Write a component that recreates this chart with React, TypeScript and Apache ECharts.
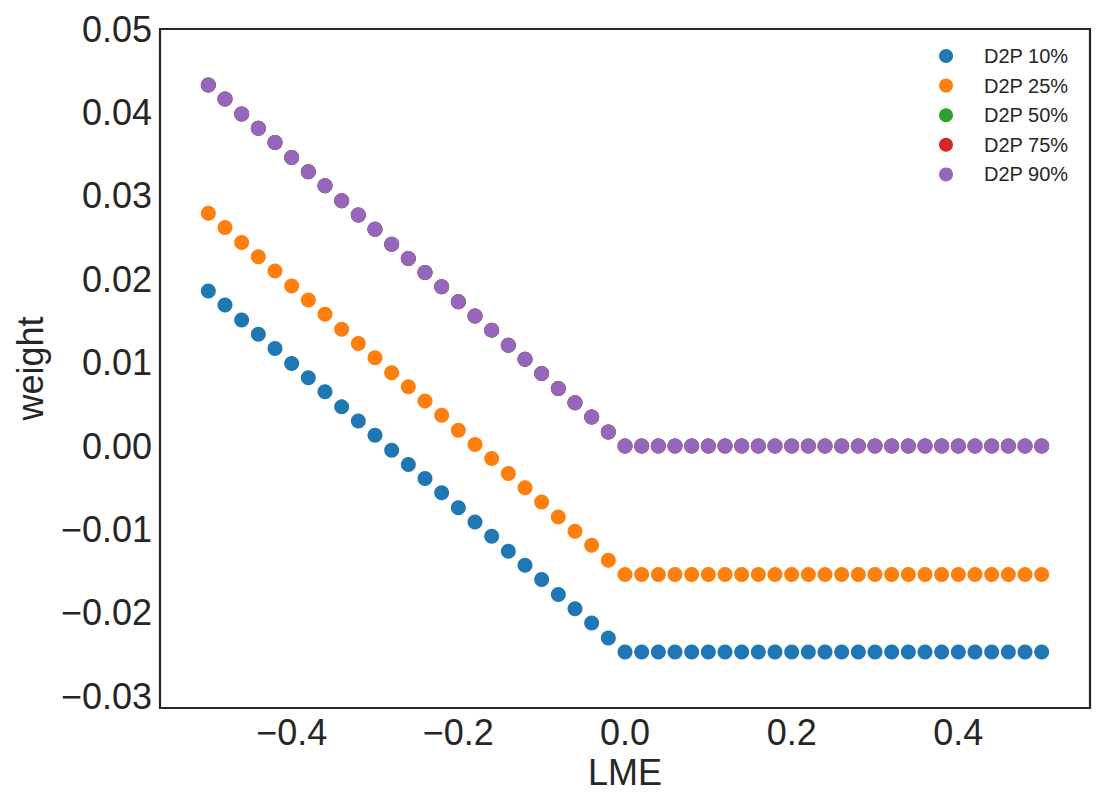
import React, { useEffect, useRef } from "react";
import * as echarts from "echarts";

const lme = [
  -0.5, -0.48, -0.46, -0.44, -0.42, -0.4, -0.38, -0.36, -0.34, -0.32, -0.3, -0.28, -0.26,
  -0.24, -0.22, -0.2, -0.18, -0.16, -0.14, -0.12, -0.1, -0.08, -0.06, -0.04, -0.02, 0.0,
  0.02, 0.04, 0.06, 0.08, 0.1, 0.12, 0.14, 0.16, 0.18, 0.2, 0.22, 0.24, 0.26, 0.28, 0.3,
  0.32, 0.34, 0.36, 0.38, 0.4, 0.42, 0.44, 0.46, 0.48, 0.5,
];

const d2p10 = [
  0.0186, 0.0169, 0.0151, 0.0134, 0.0117, 0.0099, 0.0082, 0.0065, 0.0047, 0.003, 0.0013,
  -0.0005, -0.0022, -0.0039, -0.0056, -0.0074, -0.0091, -0.0108, -0.0126, -0.0143, -0.016,
  -0.0178, -0.0195, -0.0212, -0.023, -0.0247,
  -0.0247, -0.0247, -0.0247, -0.0247, -0.0247, -0.0247, -0.0247, -0.0247, -0.0247, -0.0247,
  -0.0247, -0.0247, -0.0247, -0.0247, -0.0247, -0.0247, -0.0247, -0.0247, -0.0247, -0.0247,
  -0.0247, -0.0247, -0.0247, -0.0247, -0.0247,
];

const d2p25 = [
  0.0279, 0.0262, 0.0244, 0.0227, 0.021, 0.0192, 0.0175, 0.0158, 0.014, 0.0123, 0.0106,
  0.0088, 0.0071, 0.0054, 0.0037, 0.0019, 0.0002, -0.0015, -0.0033, -0.005, -0.0067,
  -0.0085, -0.0102, -0.0119, -0.0137, -0.0154,
  -0.0154, -0.0154, -0.0154, -0.0154, -0.0154, -0.0154, -0.0154, -0.0154, -0.0154, -0.0154,
  -0.0154, -0.0154, -0.0154, -0.0154, -0.0154, -0.0154, -0.0154, -0.0154, -0.0154, -0.0154,
  -0.0154, -0.0154, -0.0154, -0.0154, -0.0154,
];

const d2p50 = [
  0.0433, 0.0416, 0.0398, 0.0381, 0.0364, 0.0346, 0.0329, 0.0312, 0.0294, 0.0277, 0.026,
  0.0242, 0.0225, 0.0208, 0.0191, 0.0173, 0.0156, 0.0139, 0.0121, 0.0104, 0.0087, 0.0069,
  0.0052, 0.0035, 0.0017, 0.0,
  0, 0, 0, 0, 0, 0, 0, 0, 0, 0, 0, 0, 0, 0, 0, 0, 0, 0, 0, 0, 0, 0, 0, 0, 0,
];

const d2p75 = [
  0.0433, 0.0416, 0.0398, 0.0381, 0.0364, 0.0346, 0.0329, 0.0312, 0.0294, 0.0277, 0.026,
  0.0242, 0.0225, 0.0208, 0.0191, 0.0173, 0.0156, 0.0139, 0.0121, 0.0104, 0.0087, 0.0069,
  0.0052, 0.0035, 0.0017, 0.0,
  0, 0, 0, 0, 0, 0, 0, 0, 0, 0, 0, 0, 0, 0, 0, 0, 0, 0, 0, 0, 0, 0, 0, 0, 0,
];

const d2p90 = [
  0.0433, 0.0416, 0.0398, 0.0381, 0.0364, 0.0346, 0.0329, 0.0312, 0.0294, 0.0277, 0.026,
  0.0242, 0.0225, 0.0208, 0.0191, 0.0173, 0.0156, 0.0139, 0.0121, 0.0104, 0.0087, 0.0069,
  0.0052, 0.0035, 0.0017, 0.0,
  0, 0, 0, 0, 0, 0, 0, 0, 0, 0, 0, 0, 0, 0, 0, 0, 0, 0, 0, 0, 0, 0, 0, 0, 0,
];

const seriesNames = ["D2P 10%", "D2P 25%", "D2P 50%", "D2P 75%", "D2P 90%"];
const seriesValues = [d2p10, d2p25, d2p50, d2p75, d2p90];
const colors = ["#1f77b4", "#ff7f0e", "#2ca02c", "#d62728", "#9467bd"];
const xTicks = [-0.4, -0.2, 0.0, 0.2, 0.4];
const yTicks = [-0.03, -0.02, -0.01, 0.0, 0.01, 0.02, 0.03, 0.04, 0.05];

const FONT = "'Liberation Sans', Arial, sans-serif";
const TEXT = "#262626";

function fmt(v: number, d: number) {
  const s = Math.abs(v).toFixed(d);
  return v < -1e-9 ? "\u2212" + s : s;
}

export default function App() {
  const ref = useRef<HTMLDivElement>(null);
  useEffect(() => {
    if (!ref.current) return;
    const chart = echarts.init(ref.current, undefined, { renderer: "svg" });
    chart.setOption({
      animation: false,
      backgroundColor: "#ffffff",
      color: colors,
      grid: {
        left: 160,
        top: 29,
        right: 16,
        bottom: 100,
        show: true,
        borderColor: TEXT,
        borderWidth: 2.2,
        backgroundColor: "transparent",
      },
      legend: {
        orient: "vertical",
        left: 934,
        top: 41,
        icon: "circle",
        itemWidth: 66,
        itemHeight: 14,
        itemGap: 9.6,
        symbolKeepAspect: true,
        textStyle: { fontFamily: FONT, fontSize: 20, color: TEXT, lineHeight: 20 },
        data: seriesNames,
      },
      xAxis: {
        type: "value",
        min: -0.558,
        max: 0.558,
        name: "LME",
        nameLocation: "middle",
        nameGap: 45,
        nameTextStyle: { fontFamily: FONT, fontSize: 36, color: TEXT },
        axisLine: { show: false },
        axisTick: { show: false },
        splitLine: { show: false },
        axisLabel: {
          customValues: xTicks,
          fontFamily: FONT,
          fontSize: 36,
          color: TEXT,
          margin: 6,
          formatter: (v: number) => fmt(v, 1),
        },
      },
      yAxis: {
        type: "value",
        min: -0.0314,
        max: 0.05,
        name: "weight",
        nameLocation: "middle",
        nameGap: 112,
        nameRotate: 90,
        nameTextStyle: { fontFamily: FONT, fontSize: 36, color: TEXT },
        axisLine: { show: false },
        axisTick: { show: false },
        splitLine: { show: false },
        axisLabel: {
          customValues: yTicks,
          fontFamily: FONT,
          fontSize: 36,
          color: TEXT,
          margin: 8,
          formatter: (v: number) => fmt(v, 2),
        },
      },
      series: seriesNames.map((name, i) => ({
        name,
        type: "scatter",
        symbol: "circle",
        symbolSize: 15,
        itemStyle: { color: colors[i], opacity: 1 },
        data: lme.map((x, j) => [x, seriesValues[i][j]]),
      })),
    });
    return () => chart.dispose();
  }, []);
  return (
    <div
      ref={ref}
      style={{ position: "fixed", left: 0, top: 0, width: 1106, height: 808, background: "#fff" }}
    />
  );
}
